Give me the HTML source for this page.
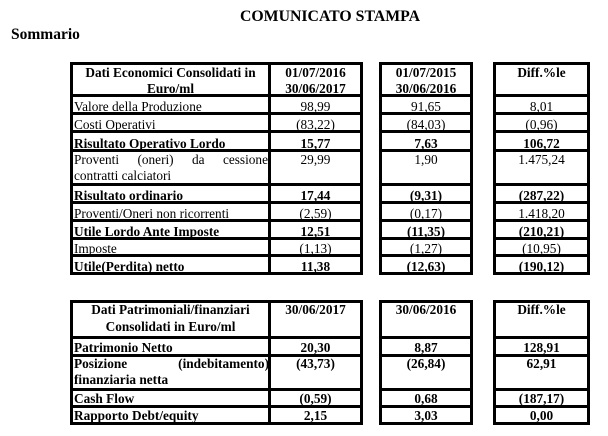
<!DOCTYPE html>
<html>
<head>
<meta charset="utf-8">
<style>
html,body{margin:0;padding:0;background:#fff;}
body{width:608px;height:436px;position:relative;overflow:hidden;font-family:"Liberation Serif","Times New Roman",serif;color:#000;}
.h{position:absolute;height:3px;background:#000;}
.v{position:absolute;width:3px;background:#000;}
.A{left:70px;width:293px;}
.B{left:379px;width:94px;}
.C{left:493px;width:97px;}
.t{position:absolute;font-size:13.3px;line-height:15px;white-space:nowrap;}
.b{font-weight:bold;}
.c0{left:74px;}
.c0c{left:73px;width:195px;text-align:center;}
.c1{left:271px;width:89px;text-align:center;}
.c2{left:382px;width:88px;text-align:center;}
.c3{left:496px;width:91px;text-align:center;}
.j{display:flex;justify-content:space-between;}
</style>
</head>
<body>

<div style="position:absolute;left:0;top:8px;width:660px;text-align:center;font-weight:bold;font-size:15.8px;line-height:18px;white-space:nowrap;">COMUNICATO STAMPA</div>
<div style="position:absolute;left:11px;top:26px;font-weight:bold;font-size:15.5px;line-height:18px;white-space:nowrap;">Sommario</div>

<!-- ============ TABLE 1 lines ============ -->
<div class="h A" style="top:62px"></div><div class="h B" style="top:62px"></div><div class="h C" style="top:62px"></div>
<div class="h A" style="top:94px"></div><div class="h B" style="top:94px"></div><div class="h C" style="top:94px"></div>
<div class="h A" style="top:112px"></div><div class="h B" style="top:112px"></div><div class="h C" style="top:112px"></div>
<div class="h A" style="top:130px"></div><div class="h B" style="top:130px"></div><div class="h C" style="top:130px"></div>
<div class="h A" style="top:149px"></div><div class="h B" style="top:149px"></div><div class="h C" style="top:149px"></div>
<div class="h A" style="top:183px"></div><div class="h B" style="top:183px"></div><div class="h C" style="top:183px"></div>
<div class="h A" style="top:201px"></div><div class="h B" style="top:201px"></div><div class="h C" style="top:201px"></div>
<div class="h A" style="top:219px"></div><div class="h B" style="top:219px"></div><div class="h C" style="top:219px"></div>
<div class="h A" style="top:237px"></div><div class="h B" style="top:237px"></div><div class="h C" style="top:237px"></div>
<div class="h A" style="top:254px"></div><div class="h B" style="top:254px"></div><div class="h C" style="top:254px"></div>
<div class="h A" style="top:272px"></div><div class="h B" style="top:272px"></div><div class="h C" style="top:272px"></div>

<div class="v" style="left:70px;top:62px;height:213px"></div>
<div class="v" style="left:268px;top:62px;height:213px"></div>
<div class="v" style="left:360px;top:62px;height:213px"></div>
<div class="v" style="left:379px;top:62px;height:213px"></div>
<div class="v" style="left:470px;top:62px;height:213px"></div>
<div class="v" style="left:493px;top:62px;height:213px"></div>
<div class="v" style="left:587px;top:62px;height:213px"></div>

<!-- ============ TABLE 1 text ============ -->
<div class="t b c0c" style="top:64.5px;line-height:16px">Dati Economici Consolidati in<br>Euro/ml</div>
<div class="t b c1" style="top:64.5px;line-height:16px">01/07/2016<br>30/06/2017</div>
<div class="t b c2" style="top:64.5px;line-height:16px">01/07/2015<br>30/06/2016</div>
<div class="t b c3" style="top:64.5px;line-height:16px">Diff.%le</div>

<div class="t c0" style="top:99px">Valore della Produzione</div>
<div class="t c1" style="top:99px">98,99</div>
<div class="t c2" style="top:99px">91,65</div>
<div class="t c3" style="top:99px">8,01</div>

<div class="t c0" style="top:117px">Costi Operativi</div>
<div class="t c1" style="top:117px">(83,22)</div>
<div class="t c2" style="top:117px">(84,03)</div>
<div class="t c3" style="top:117px">(0,96)</div>

<div class="t b c0" style="top:136px">Risultato Operativo Lordo</div>
<div class="t b c1" style="top:136px">15,77</div>
<div class="t b c2" style="top:136px">7,63</div>
<div class="t b c3" style="top:136px">106,72</div>

<div class="t c0 j" style="top:151.8px;line-height:16.5px;width:194px"><span>Proventi</span><span>(oneri)</span><span>da</span><span>cessione</span></div>
<div class="t c0" style="top:168.3px;line-height:16.5px">contratti calciatori</div>
<div class="t c1" style="top:151.8px;line-height:16.5px">29,99</div>
<div class="t c2" style="top:151.8px;line-height:16.5px">1,90</div>
<div class="t c3" style="top:151.8px;line-height:16.5px">1.475,24</div>

<div class="t b c0" style="top:188px">Risultato ordinario</div>
<div class="t b c1" style="top:188px">17,44</div>
<div class="t b c2" style="top:188px">(9,31)</div>
<div class="t b c3" style="top:188px">(287,22)</div>

<div class="t c0" style="top:205.5px">Proventi/Oneri non ricorrenti</div>
<div class="t c1" style="top:205.5px">(2,59)</div>
<div class="t c2" style="top:205.5px">(0,17)</div>
<div class="t c3" style="top:205.5px">1.418,20</div>

<div class="t b c0" style="top:223.5px">Utile Lordo Ante Imposte</div>
<div class="t b c1" style="top:223.5px">12,51</div>
<div class="t b c2" style="top:223.5px">(11,35)</div>
<div class="t b c3" style="top:223.5px">(210,21)</div>

<div class="t c0" style="top:241px">Imposte</div>
<div class="t c1" style="top:241px">(1,13)</div>
<div class="t c2" style="top:241px">(1,27)</div>
<div class="t c3" style="top:241px">(10,95)</div>

<div class="t b c0" style="top:259px">Utile(Perdita) netto</div>
<div class="t b c1" style="top:259px">11,38</div>
<div class="t b c2" style="top:259px">(12,63)</div>
<div class="t b c3" style="top:259px">(190,12)</div>

<!-- ============ TABLE 2 lines ============ -->
<div class="h A" style="top:300px"></div><div class="h B" style="top:300px"></div><div class="h C" style="top:300px"></div>
<div class="h A" style="top:336px"></div><div class="h B" style="top:336px"></div><div class="h C" style="top:336px"></div>
<div class="h A" style="top:354px"></div><div class="h B" style="top:354px"></div><div class="h C" style="top:354px"></div>
<div class="h A" style="top:388px"></div><div class="h B" style="top:388px"></div><div class="h C" style="top:388px"></div>
<div class="h A" style="top:405px"></div><div class="h B" style="top:405px"></div><div class="h C" style="top:405px"></div>
<div class="h A" style="top:422px"></div><div class="h B" style="top:422px"></div><div class="h C" style="top:422px"></div>

<div class="v" style="left:70px;top:300px;height:125px"></div>
<div class="v" style="left:268px;top:300px;height:125px"></div>
<div class="v" style="left:360px;top:300px;height:125px"></div>
<div class="v" style="left:379px;top:300px;height:125px"></div>
<div class="v" style="left:470px;top:300px;height:125px"></div>
<div class="v" style="left:493px;top:300px;height:125px"></div>
<div class="v" style="left:587px;top:300px;height:125px"></div>

<!-- ============ TABLE 2 text ============ -->
<div class="t b c0c" style="top:300.8px;line-height:17.5px">Dati Patrimoniali/finanziari<br>Consolidati in Euro/ml</div>
<div class="t b c1" style="top:300.8px;line-height:17.5px">30/06/2017</div>
<div class="t b c2" style="top:300.8px;line-height:17.5px">30/06/2016</div>
<div class="t b c3" style="top:300.8px;line-height:17.5px">Diff.%le</div>

<div class="t b c0" style="top:340.3px">Patrimonio Netto</div>
<div class="t b c1" style="top:340.3px">20,30</div>
<div class="t b c2" style="top:340.3px">8,87</div>
<div class="t b c3" style="top:340.3px">128,91</div>

<div class="t b c0 j" style="top:355.8px;line-height:16.5px;width:195px"><span>Posizione</span><span>(indebitamento)</span></div>
<div class="t b c0" style="top:372.3px;line-height:16.5px">finanziaria netta</div>
<div class="t b c1" style="top:355.8px;line-height:16.5px">(43,73)</div>
<div class="t b c2" style="top:355.8px;line-height:16.5px">(26,84)</div>
<div class="t b c3" style="top:355.8px;line-height:16.5px">62,91</div>

<div class="t b c0" style="top:390.5px">Cash Flow</div>
<div class="t b c1" style="top:390.5px">(0,59)</div>
<div class="t b c2" style="top:390.5px">0,68</div>
<div class="t b c3" style="top:390.5px">(187,17)</div>

<div class="t b c0" style="top:407.8px">Rapporto Debt/equity</div>
<div class="t b c1" style="top:407.8px">2,15</div>
<div class="t b c2" style="top:407.8px">3,03</div>
<div class="t b c3" style="top:407.8px">0,00</div>

</body>
</html>
